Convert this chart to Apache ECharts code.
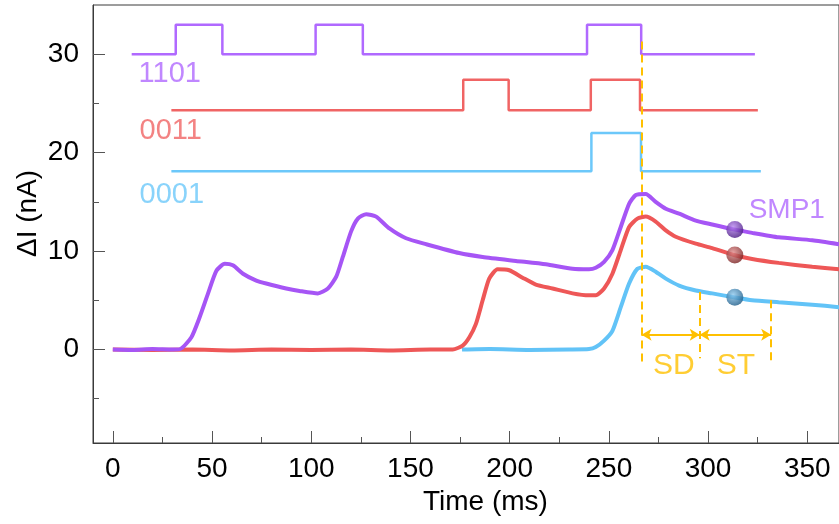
<!DOCTYPE html>
<html>
<head>
<meta charset="utf-8">
<script src="https://cdn.jsdelivr.net/npm/echarts@6/dist/echarts.min.js"></script>
<style>
  html, body { margin: 0; padding: 0; background: #fff; }
  #main { width: 839px; height: 524px; }
</style>
</head>
<body>
<div id="main"></div>
<script>
// tick labels
var xTicks = [0, 50, 100, 150, 200, 250, 300, 350];
var xMinorTicks = [25, 75, 125, 175, 225, 275, 325];
var yTicks = [0, 10, 20, 30];
var yMinorTicks = [-5, 5, 15, 25];

// input pulse trains: edge times and levels (step lines)
var pulse1101X = [9.5, 31.7, 55.2, 102.2, 126, 239, 266.3, 323.6];
var pulse1101Y = [30, 33, 30, 33, 30, 33, 30, 30];
var pulse0011X = [29.5, 176.6, 199.5, 240.9, 265.7, 325.1];
var pulse0011Y = [24.3, 27.4, 24.3, 27.4, 24.3, 24.3];
var pulse0001X = [29.5, 241.2, 266.2, 326.6];
var pulse0001Y = [18.1, 22.0, 18.1, 18.1];

// response current (time ms, dI nA)
var resp1101 = [[0,0],[10,-0.05],[20,0.05],[30,0],[34,0.05],[39.6,1.25],[43.8,3.3],[48,5.7],[52.2,8.0],[56.4,8.7],[60.5,8.55],[65.6,7.7],[72.3,7.0],[77.3,6.7],[87.4,6.2],[94.1,5.95],[103.3,5.7],[108.4,6.2],[112.6,7.4],[115.9,9.4],[120.1,12.0],[123.5,13.3],[127.7,13.75],[132.7,13.5],[139.4,12.3],[147.8,11.3],[157.9,10.7],[174.6,9.8],[186.4,9.4],[203.2,9.0],[218.3,8.65],[231.7,8.2],[240,8.15],[243.4,8.3],[247.6,8.9],[251.8,10.1],[256,12.45],[260.2,14.8],[263.6,15.7],[268.6,15.8],[273.6,15.0],[278.7,14.3],[285.4,13.8],[293.8,13.1],[302.1,12.7],[313,12.2],[322.2,11.85],[335.6,11.4],[352.5,11.1],[366,10.7]];
var resp0011 = [[0,0],[20,-0.05],[40,0],[60,-0.1],[80,0],[100,-0.05],[120,0],[140,-0.1],[160,0],[171.3,0],[176.3,0.4],[179.7,1.25],[183,2.6],[186.4,5.0],[189.7,7.2],[193.9,8.15],[199.8,8.05],[206.5,7.3],[213.2,6.6],[221.6,6.2],[231.7,5.7],[240,5.5],[243.4,5.5],[247.6,6.2],[251.8,7.7],[256,10.1],[260.2,12.45],[264.4,13.3],[268.6,13.5],[273.6,13.0],[278.7,12.1],[283.7,11.45],[293.8,10.75],[302.1,10.3],[313,9.6],[322.2,9.2],[335.6,8.8],[352.5,8.4],[366,8.15]];
var resp0001 = [[176,0],[190,0.05],[210,-0.05],[230,0],[240,0.05],[243.4,0.25],[247.6,0.9],[251.8,1.9],[256,4.3],[260.2,6.7],[264.4,8.2],[268.6,8.4],[273.6,7.9],[278.7,7.2],[285.4,6.5],[293.8,6.0],[302.1,5.7],[313,5.3],[322.2,5.0],[335.6,4.8],[352.5,4.55],[366,4.3]];

// sampled points (SMP1)
var smpTime = 313.5;
var smpValues = [12.2, 9.6, 5.3];

// SD / ST markers
var pulseEnd = 266.5;
var sdEnd = 295.8;
var stEnd = 331.8;

var purple = '#A655F5', red = '#EE5757', blue = '#62C3F7', orange = '#FFC000';
var FONT = '"Liberation Sans", Arial, sans-serif';

function zip(xs, ys) {
    var out = [];
    for (var i = 0; i < xs.length; i++) out.push([xs[i], ys[i]]);
    return out;
}
function ball(light, dark) {
    return {
        type: 'radial', x: 0.4, y: 0.35, r: 0.65,
        colorStops: [{offset: 0, color: light}, {offset: 1, color: dark}]
    };
}

var myChart = echarts.init(document.getElementById('main'));
var axisColor = '#3a3a3a';

myChart.setOption({
    animation: false,
    grid: {
        left: 93, right: -2, top: 5, bottom: 81,
        show: true, borderColor: axisColor, borderWidth: 1
    },
    xAxis: [
        {
            type: 'value', min: -10, max: 366, position: 'bottom',
            axisLine: {show: true, onZero: false, lineStyle: {color: axisColor, width: 1}},
            axisTick: {show: true, inside: true, length: 12, customValues: xTicks, lineStyle: {color: '#555'}},
            axisLabel: {customValues: xTicks, color: '#000', fontSize: 28, fontFamily: FONT, margin: 12},
            splitLine: {show: false}
        },
        {
            type: 'value', min: -10, max: 366, position: 'bottom',
            axisLine: {show: false, onZero: false},
            axisTick: {show: true, inside: true, length: 6, customValues: xMinorTicks, lineStyle: {color: '#555'}},
            axisLabel: {show: false},
            splitLine: {show: false}
        }
    ],
    yAxis: [
        {
            type: 'value', min: -9.5, max: 35, position: 'left',
            axisLine: {show: true, onZero: false, lineStyle: {color: axisColor, width: 1}},
            axisTick: {show: true, inside: true, length: 12, customValues: yTicks, lineStyle: {color: '#555'}},
            axisLabel: {customValues: yTicks, color: '#000', fontSize: 28, fontFamily: FONT, margin: 14},
            splitLine: {show: false}
        },
        {
            type: 'value', min: -9.5, max: 35, position: 'left',
            axisLine: {show: false, onZero: false},
            axisTick: {show: true, inside: true, length: 6, customValues: yMinorTicks, lineStyle: {color: '#555'}},
            axisLabel: {show: false},
            splitLine: {show: false}
        }
    ],
    graphic: [
        {type: 'text', left: 423, top: 488, style: {text: 'Time (ms)', fontSize: 28, fontFamily: FONT, fill: '#000'}},
        {type: 'text', x: 14, y: 257, rotation: Math.PI / 2,
         style: {text: 'ΔI (nA)', fontSize: 28, fontFamily: FONT, fill: '#000'}}
    ],
    series: [
        {type: 'line', name: '1101 in', data: zip(pulse1101X, pulse1101Y), step: 'end', symbol: 'none',
         lineStyle: {color: '#B069FF', width: 2.5}, z: 3},
        {type: 'line', name: '0011 in', data: zip(pulse0011X, pulse0011Y), step: 'end', symbol: 'none',
         lineStyle: {color: '#F06464', width: 2.5}, z: 3},
        {type: 'line', name: '0001 in', data: zip(pulse0001X, pulse0001Y), step: 'end', symbol: 'none',
         lineStyle: {color: '#6CC8FA', width: 2.5}, z: 3},
        {type: 'line', name: '0001', data: resp0001, smooth: 0.2, symbol: 'none',
         lineStyle: {color: blue, width: 4}, z: 4},
        {type: 'line', name: '0011', data: resp0011, smooth: 0.2, symbol: 'none',
         lineStyle: {color: red, width: 4}, z: 5},
        {type: 'line', name: '1101', data: resp1101, smooth: 0.2, symbol: 'none',
         lineStyle: {color: purple, width: 4}, z: 6},
        {
            type: 'line', name: 'marks', data: [], z: 7, silent: true,
            markLine: {
                silent: true, symbol: 'none', label: {show: false},
                lineStyle: {color: orange, width: 2, type: [8, 5]},
                data: [
                    [{coord: [pulseEnd, 31.3]}, {coord: [pulseEnd, -1.6]}],
                    [{coord: [sdEnd, 5.85]}, {coord: [sdEnd, -0.9]}],
                    [{coord: [stEnd, 5.0]}, {coord: [stEnd, -1.4]}]
                ]
            }
        },
        {
            type: 'line', name: 'arrows', data: [], z: 7, silent: true,
            markLine: {
                silent: true, symbol: ['arrow', 'arrow'], symbolSize: [9, 10], label: {show: false},
                lineStyle: {color: orange, width: 2, type: 'solid'},
                data: [
                    [{coord: [pulseEnd, 1.5]}, {coord: [sdEnd, 1.5]}],
                    [{coord: [sdEnd, 1.5]}, {coord: [stEnd, 1.5]}]
                ]
            }
        },
        {
            type: 'scatter', name: 'SMP1', symbolSize: 17, z: 8,
            data: [
                {value: [smpTime, smpValues[0]], itemStyle: {color: ball('#B784F0', '#4A1A85')}},
                {value: [smpTime, smpValues[1]], itemStyle: {color: ball('#E08A8A', '#7A2323')}},
                {value: [smpTime, smpValues[2]], itemStyle: {color: ball('#8CC8EE', '#1F5E8A')}}
            ]
        },
        {
            type: 'scatter', name: 'labels', symbolSize: 1, z: 9, silent: true,
            itemStyle: {color: 'rgba(0,0,0,0)'},
            label: {show: true, position: 'inside', fontFamily: FONT},
            data: [
                {value: [28.7, 28.0], label: {formatter: '1101', color: '#B069FF', fontSize: 29}},
                {value: [29.2, 22.2], label: {formatter: '0011', color: '#F06464', fontSize: 29}},
                {value: [29.7, 15.7], label: {formatter: '0001', color: '#6CC8FA', fontSize: 29}},
                {value: [339.7, 14.15], label: {formatter: 'SMP1', color: '#B069FF', fontSize: 28}},
                {value: [282.8, -1.63], label: {formatter: 'SD', color: orange, fontSize: 30}},
                {value: [314, -1.63], label: {formatter: 'ST', color: orange, fontSize: 30}}
            ]
        }
    ]
});
</script>
</body>
</html>
